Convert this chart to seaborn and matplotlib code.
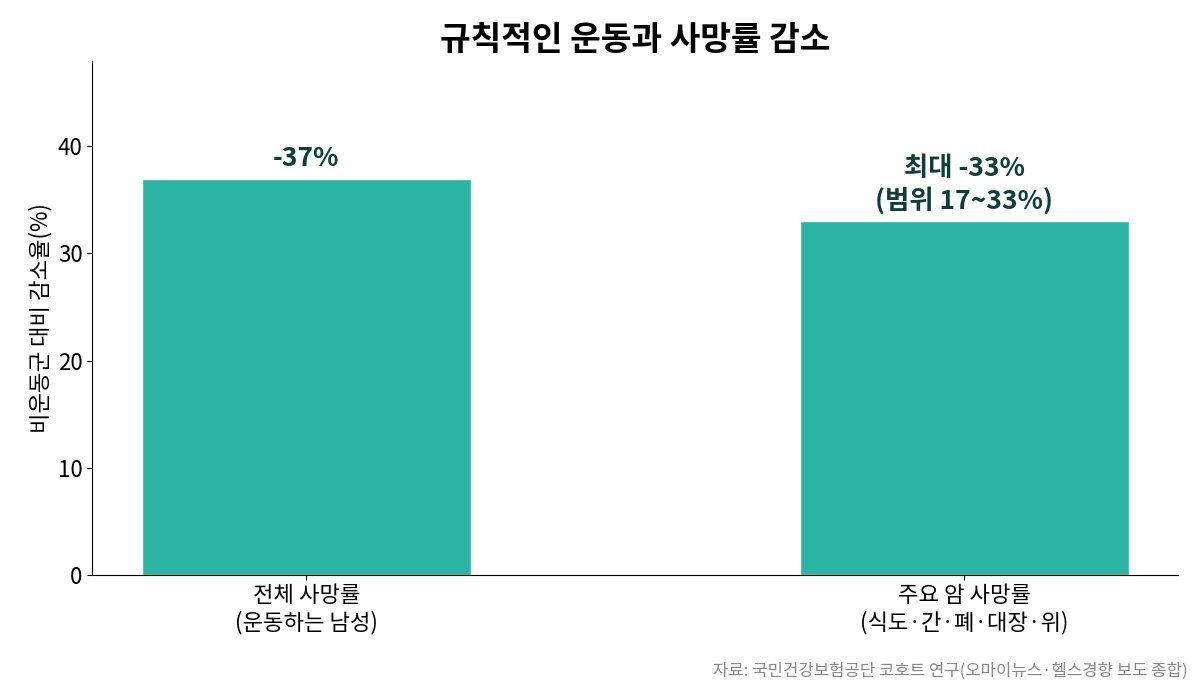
import matplotlib
matplotlib.use("Agg")
import matplotlib.pyplot as plt
import seaborn as sns
import pandas as pd

# data
categories = ["전체 사망률\n(운동하는 남성)", "주요 암 사망률\n(식도·간·폐·대장·위)"]
reduction = [37, 33]
bar_labels = ["-37%", "최대 -33%\n(범위 17~33%)"]

sns.set_style("ticks")
plt.rcParams['font.family'] = ['Noto Sans CJK KR', 'DejaVu Sans']
plt.rcParams['text.color'] = 'black'
plt.rcParams['axes.labelcolor'] = 'black'
plt.rcParams['xtick.color'] = 'black'
plt.rcParams['ytick.color'] = 'black'
plt.rcParams['axes.edgecolor'] = 'black'

df = pd.DataFrame({"category": categories, "reduction": reduction})

fig, ax = plt.subplots(figsize=(12, 6.9), dpi=100)
sns.barplot(data=df, x="category", y="reduction", color="#2bb3a3",
            saturation=1, width=0.5, ax=ax)

for i, (v, lab) in enumerate(zip(reduction, bar_labels)):
    ax.annotate(lab, (i, v), xytext=(0, 5), textcoords="offset points",
                ha="center", va="bottom", fontsize=19, fontweight="bold",
                color="#0f3d38", linespacing=1.2)

ax.set_xlim(-0.325, 1.325)
ax.set_ylim(0, 48)
ax.set_yticks([0, 10, 20, 30, 40])
ax.set_xlabel("")
ax.set_ylabel("비운동군 대비 감소율(%)", fontsize=16)
ax.tick_params(axis="both", labelsize=16)
ax.set_title("규칙적인 운동과 사망률 감소", fontsize=24, fontweight="bold", pad=8)
sns.despine(ax=ax)

fig.subplots_adjust(left=0.077, right=0.982, top=0.912, bottom=0.167)
fig.text(0.99, 0.015, "자료: 국민건강보험공단 코호트 연구(오마이뉴스·헬스경향 보도 종합)",
         ha="right", va="bottom", fontsize=12, color="#888888")

fig.savefig("out.png", dpi=100)
